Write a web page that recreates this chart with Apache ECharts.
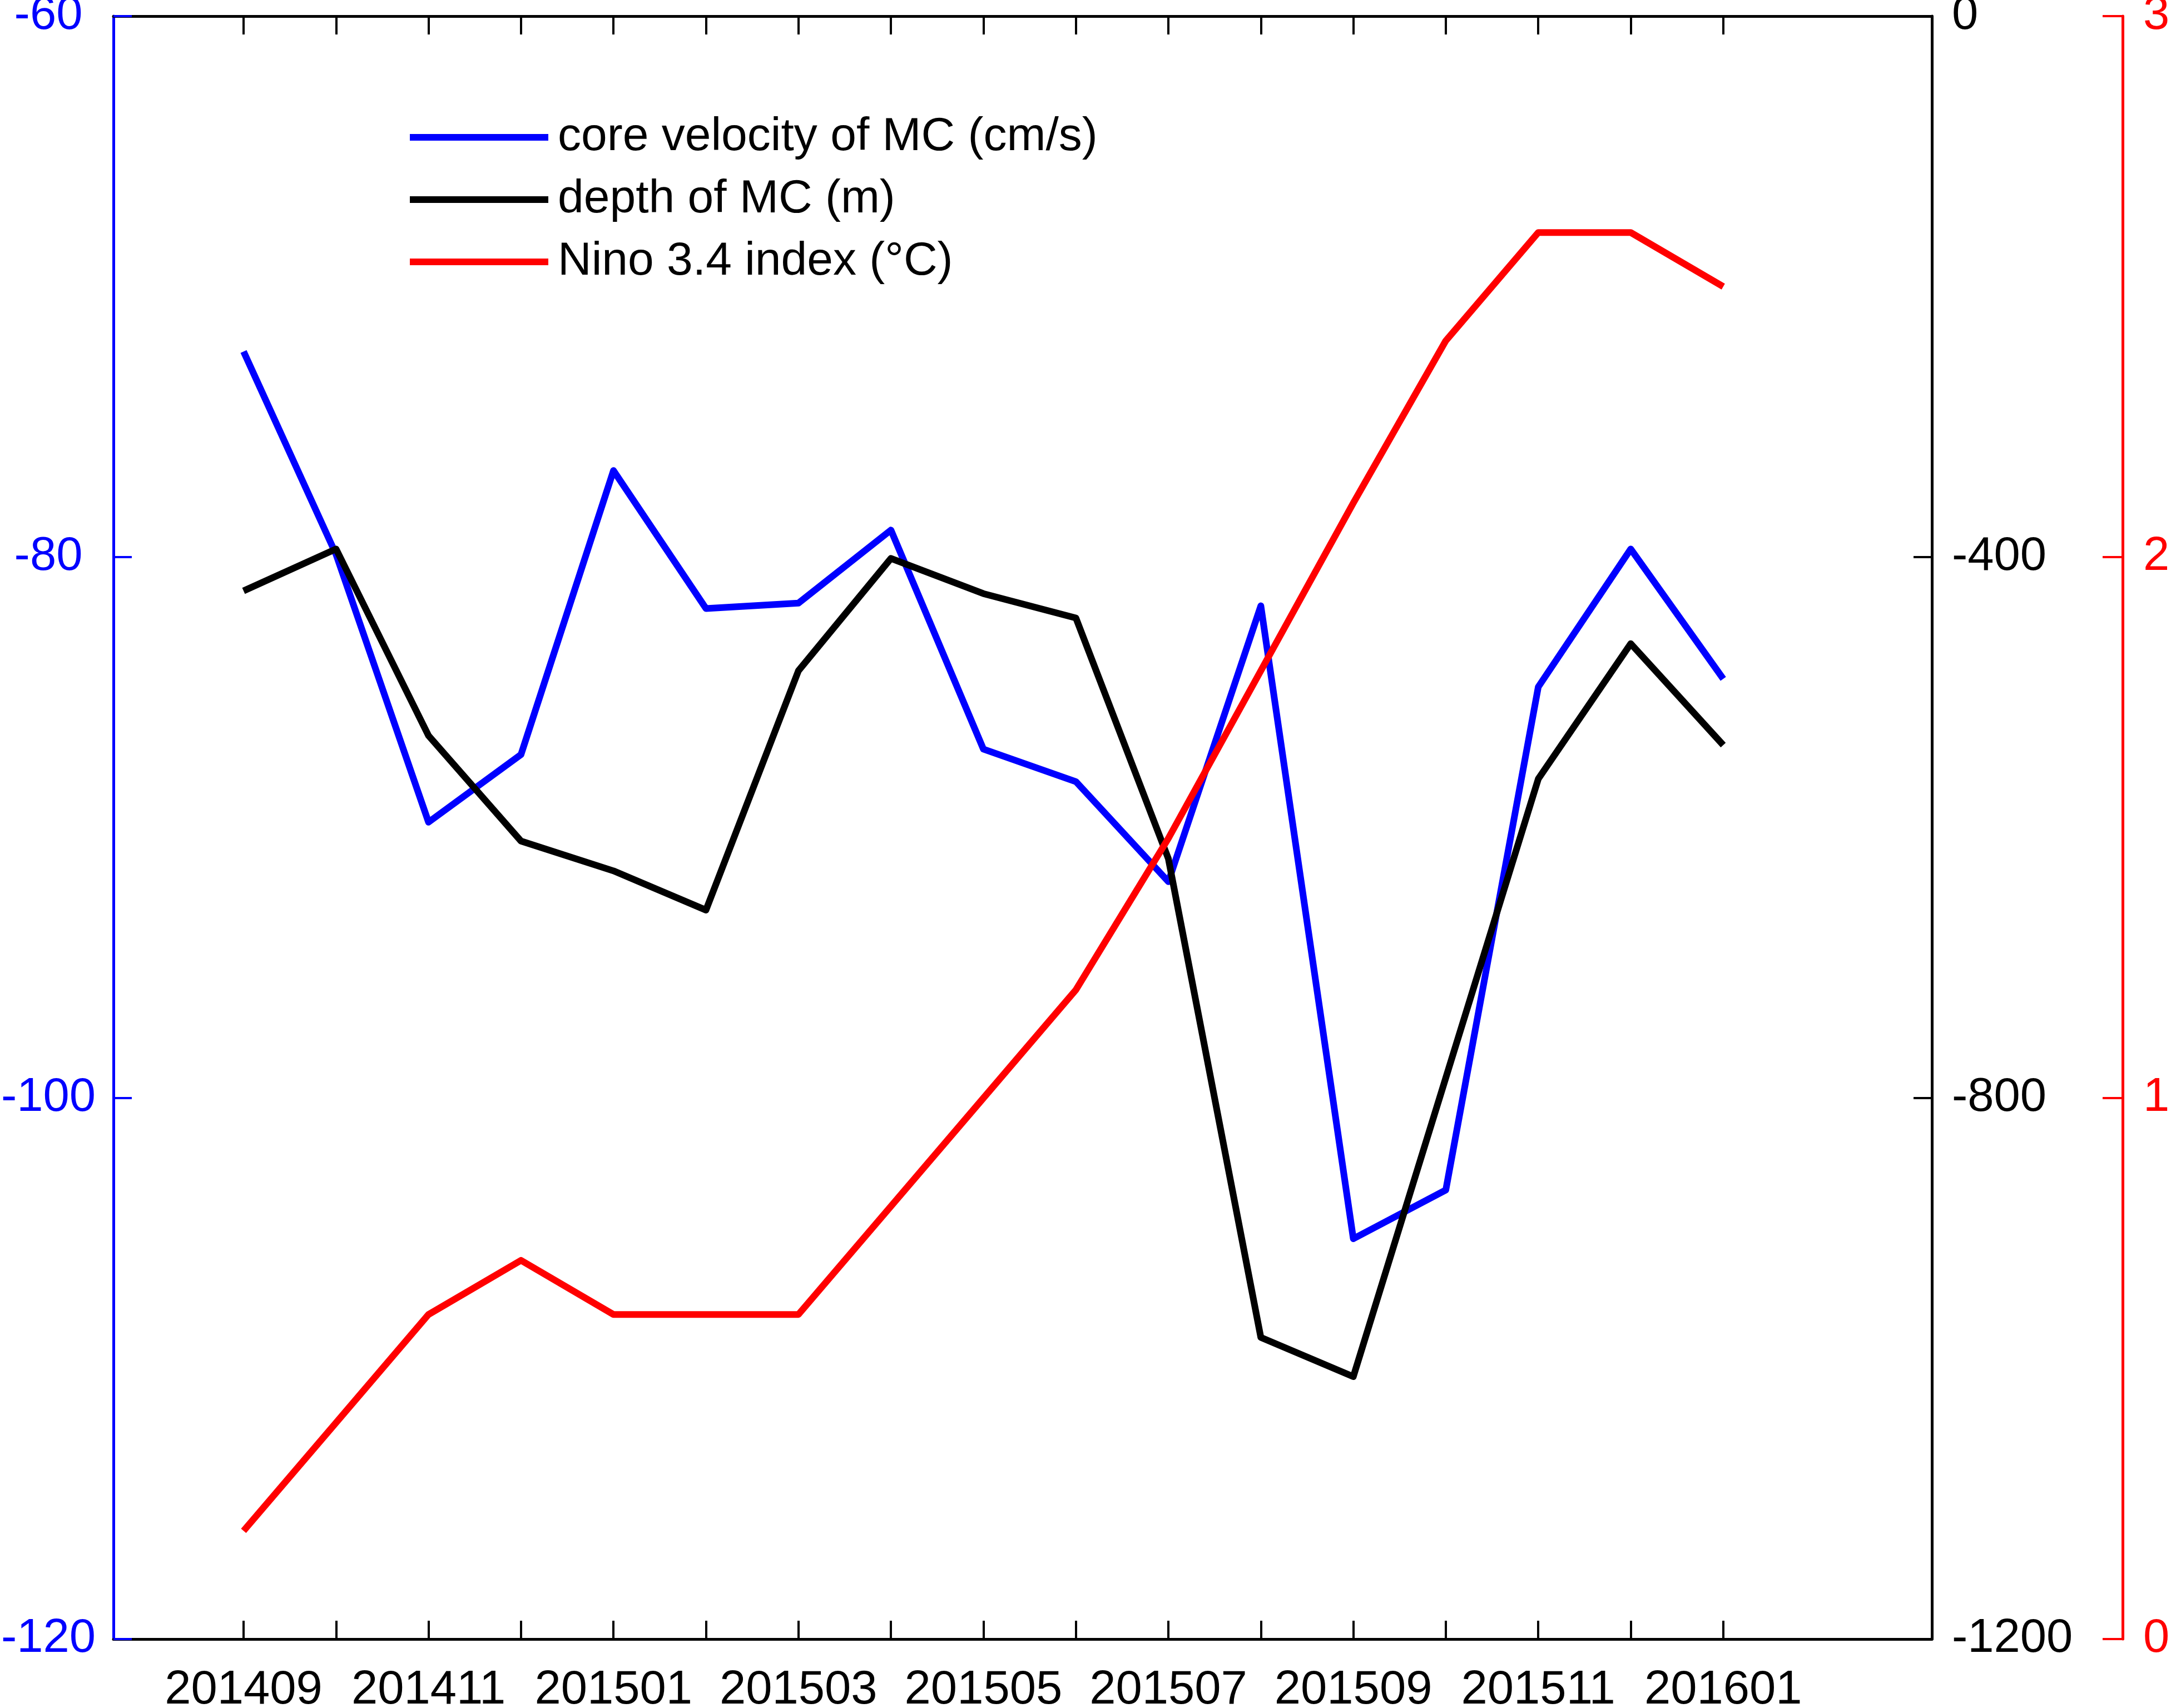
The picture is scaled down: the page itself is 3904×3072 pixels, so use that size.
<!DOCTYPE html>
<html>
<head>
<meta charset="utf-8">
<script src="https://cdn.jsdelivr.net/npm/echarts@6/dist/echarts.min.js"></script>
<style>
  html, body { margin: 0; padding: 0; background: #fff; }
  #chart { width: 3904px; height: 3072px; }
</style>
</head>
<body>
<div id="chart"></div>
<script>
// months on the x axis (one point per month)
var months = ['201409', '201410', '201411', '201412', '201501', '201502', '201503', '201504', '201505',
    '201506', '201507', '201508', '201509', '201510', '201511', '201512', '201601'];

// core velocity of MC (cm/s), left axis
var velocity = [-72.4, -79.9, -89.8, -87.3, -76.8, -81.9, -81.7, -79.0, -87.1,
    -88.3, -92.0, -81.8, -105.2, -103.4, -84.8, -79.7, -84.5];

// depth of MC (m), first right axis
var depth = [-425, -394, -532, -610, -632, -661, -484, -401, -427,
    -445, -623, -977, -1006, -785, -564, -464, -539];

// Nino 3.4 index (°C), second right axis
var nino = [0.2, 0.4, 0.6, 0.7, 0.6, 0.6, 0.6, 0.8, 1.0,
    1.2, 1.48, 1.79, 2.1, 2.4, 2.6, 2.6, 2.5];

var legendNames = ['core velocity of MC (cm/s)', 'depth of MC (m)', 'Nino 3.4 index (°C)'];

var monthIdx = months.map(function (m, i) { return i; });
var labelIdx = monthIdx.filter(function (i) { return i % 2 === 0; });

function pairs(arr) {
    return arr.map(function (v, i) { return [i, v]; });
}

var FONT = 'Liberation Sans';
var FS = 85;
var TICK = -33; // negative length -> ticks point into the plot

var chart = echarts.init(document.getElementById('chart'));

var xBase = {
    type: 'value',
    min: -1.407,
    max: 18.256,
    splitLine: { show: false },
    axisLine: { show: true, onZero: false, lineStyle: { color: '#000', width: 5 } },
    axisTick: { show: true, length: TICK, lineStyle: { color: '#000', width: 4 }, customValues: monthIdx }
};

function plain(v) { return String(v); }

var option = {
    animation: false,
    backgroundColor: '#fff',
    textStyle: { fontFamily: FONT },
    grid: { left: 204, right: 430, top: 29, bottom: 124, containLabel: false, outerBoundsMode: 'none' },
    legend: {
        orient: 'vertical',
        left: 732,
        top: 200,
        icon: 'rect',
        itemWidth: 249,
        itemHeight: 12,
        itemGap: 28,
        data: legendNames,
        textStyle: { fontFamily: FONT, fontSize: 84, color: '#000', lineHeight: 82, padding: [0, 0, 0, 12] }
    },
    xAxis: [
        Object.assign({}, xBase, {
            position: 'bottom',
            axisLabel: {
                show: true,
                customValues: labelIdx,
                margin: 50,
                fontFamily: FONT,
                fontSize: FS,
                color: '#000',
                formatter: function (v) { return months[Math.round(v)]; }
            }
        }),
        Object.assign({}, xBase, {
            position: 'top',
            axisLabel: { show: false }
        })
    ],
    yAxis: [
        {
            type: 'value',
            position: 'left',
            min: -120,
            max: -60,
            interval: 20,
            splitLine: { show: false },
            axisLine: { show: true, onZero: false, lineStyle: { color: '#0000ff', width: 5 } },
            axisTick: { show: true, length: TICK, lineStyle: { color: '#0000ff', width: 4 } },
            axisLabel: { margin: 117, align: 'center', fontFamily: FONT, fontSize: FS, color: '#0000ff', formatter: plain }
        },
        {
            type: 'value',
            position: 'right',
            min: -1200,
            max: 0,
            interval: 400,
            splitLine: { show: false },
            axisLine: { show: true, onZero: false, lineStyle: { color: '#000', width: 5 } },
            axisTick: { show: true, length: TICK, lineStyle: { color: '#000', width: 4 } },
            axisLabel: { margin: 36, fontFamily: FONT, fontSize: FS, color: '#000', formatter: plain }
        },
        {
            type: 'value',
            position: 'right',
            offset: 343,
            min: 0,
            max: 3,
            interval: 1,
            splitLine: { show: false },
            axisLine: { show: true, onZero: false, lineStyle: { color: '#ff0000', width: 5 } },
            axisTick: { show: true, length: -36, lineStyle: { color: '#ff0000', width: 4 } },
            axisLabel: { margin: 37, fontFamily: FONT, fontSize: FS, color: '#ff0000', formatter: plain }
        }
    ],
    series: [
        {
            name: legendNames[0],
            type: 'line',
            xAxisIndex: 0,
            yAxisIndex: 0,
            data: pairs(velocity),
            showSymbol: false,
            symbol: 'none',
            itemStyle: { color: '#0000ff' },
            lineStyle: { color: '#0000ff', width: 12, join: 'round' }
        },
        {
            name: legendNames[1],
            type: 'line',
            xAxisIndex: 0,
            yAxisIndex: 1,
            data: pairs(depth),
            showSymbol: false,
            symbol: 'none',
            itemStyle: { color: '#000' },
            lineStyle: { color: '#000', width: 12, join: 'round' }
        },
        {
            name: legendNames[2],
            type: 'line',
            xAxisIndex: 0,
            yAxisIndex: 2,
            data: pairs(nino),
            showSymbol: false,
            symbol: 'none',
            itemStyle: { color: '#ff0000' },
            lineStyle: { color: '#ff0000', width: 12, join: 'round' }
        }
    ]
};

chart.setOption(option);
</script>
</body>
</html>
